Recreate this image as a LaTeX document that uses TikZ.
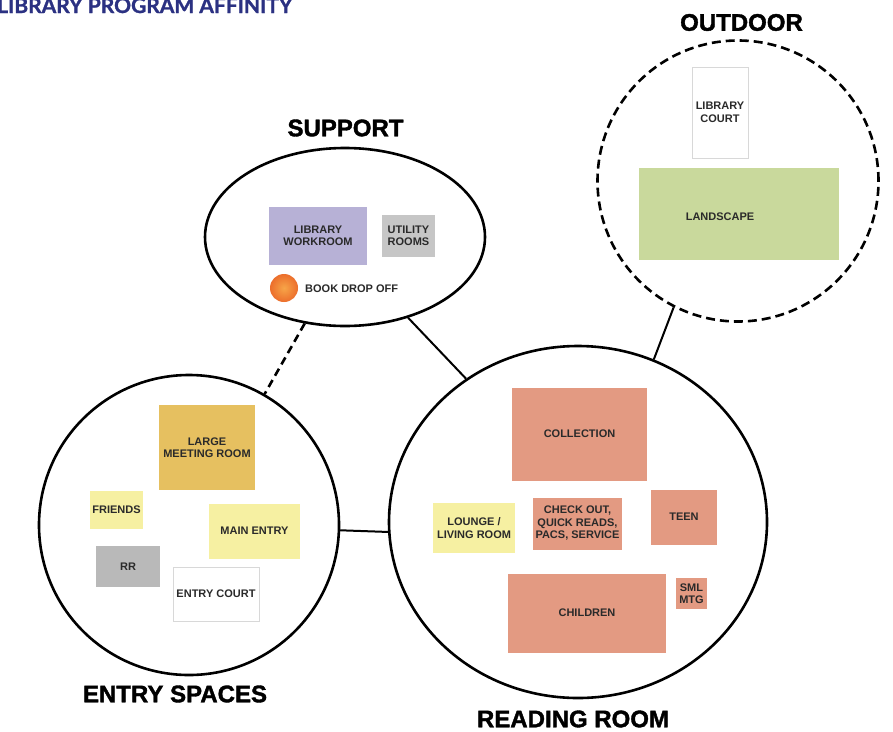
\documentclass[tikz,border=0pt]{standalone}
\usepackage{fontspec}
\setmainfont{Liberation Sans}
\newfontfamily\heavyfont{Liberation Sans}[BoldFeatures={FakeBold=1.6}]
\newfontfamily\titlefont{Lato}[BoldFeatures={FakeBold=1.2}]
\usetikzlibrary{shapes.geometric}
\definecolor{titleblue}{HTML}{2B3182}
\definecolor{labelgray}{HTML}{2A2A2A}
\definecolor{lavender}{HTML}{B7B1D6}
\definecolor{utilgray}{HTML}{C6C6C6}
\definecolor{rrgray}{HTML}{B9B9B9}
\definecolor{leafgreen}{HTML}{C9D99C}
\definecolor{gold}{HTML}{E6C060}
\definecolor{paleyellow}{HTML}{F6F0A2}
\definecolor{salmon}{HTML}{E39A82}
\definecolor{dropinner}{HTML}{F7A548}
\definecolor{dropouter}{HTML}{EC6E2C}
\definecolor{courtline}{HTML}{D8D8D8}
\begin{document}
\begin{tikzpicture}[x=1pt,y=-1pt,
  zone/.style={draw=black, line width=2.6pt, inner sep=0pt},
  zonelabel/.style={font=\heavyfont\bfseries\fontsize{24}{24}\selectfont, inner sep=0pt},
  room/.style={rectangle, inner sep=0pt, align=center, text=labelgray,
    font=\bfseries\fontsize{11}{12.5}\selectfont},
  court/.style={room, fill=white, draw=courtline, line width=0.8pt},
  link/.style={draw=black, line width=2pt},
  dashlink/.style={draw=black, line width=2.6pt, dash pattern=on 8pt off 5pt}]
\useasboundingbox (0,0) rectangle (893,731);
\fill[white] (0,0) rectangle (893,731);

% title
\node[anchor=base west, inner sep=0pt, text=titleblue,
  font=\titlefont\bfseries\fontsize{21}{21}\selectfont] (title) at (-3,13) {LIBRARY PROGRAM AFFINITY};

% zones
\node[zone, ellipse, minimum width=280pt, minimum height=178pt] (sup) at (345,237) {};
\node[zone, circle, minimum size=281pt, dash pattern=on 9pt off 5pt] (out) at (738,181) {};
\node[zone, circle, minimum size=300pt] (entry) at (189,525) {};
\node[zone, ellipse, minimum width=378pt, minimum height=352pt] (read) at (578,522) {};

% zone labels
\node[zonelabel] (suplbl) at (345.5,128) {SUPPORT};
\node[zonelabel] (outlbl) at (741.5,22.5) {OUTDOOR};
\node[zonelabel] (entrylbl) at (175,694) {ENTRY SPACES};
\node[zonelabel] (readlbl) at (573,719) {READING ROOM};

% connectors
\draw[dashlink] (sup.245) -- (entry.60);
\draw[link] (sup.-52) -- (read.128);
\draw[link] (read.65.6) -- (out.243);
\draw[link] (entry.-2.7) -- (read.183);

% support rooms
\node[room, fill=lavender, minimum width=98pt, minimum height=58pt] (work) at (318,236) {LIBRARY\\WORKROOM};
\node[room, fill=utilgray, minimum width=53pt, minimum height=42pt] (util) at (408.5,236) {UTILITY\\ROOMS};
\node[circle, inner sep=0pt, minimum size=28pt, inner color=dropinner, outer color=dropouter] (drop) at (284,288) {};
\node[room, anchor=west] (droplbl) at (305,289) {BOOK DROP OFF};

% outdoor rooms
\node[court, minimum width=56pt, minimum height=91pt] (lcourt) at (720,112.5) {LIBRARY\\COURT};
\node[room, fill=leafgreen, minimum width=200pt, minimum height=92pt] (land) at (739,214) {};
\node[room] (landlbl) at (720,217) {LANDSCAPE};

% entry rooms
\node[room, fill=gold, minimum width=96pt, minimum height=85pt] (meet) at (207,447.5) {LARGE\\MEETING ROOM};
\node[room, fill=paleyellow, minimum width=53pt, minimum height=38pt] (friends) at (116.5,510) {FRIENDS};
\node[room, fill=paleyellow, minimum width=91pt, minimum height=55pt] (main) at (254.5,531) {MAIN ENTRY};
\node[room, fill=rrgray, minimum width=64pt, minimum height=41pt] (rr) at (128,566.5) {RR};
\node[court, minimum width=86pt, minimum height=54pt] (ecourt) at (216,594) {ENTRY COURT};

% reading rooms
\node[room, fill=salmon, minimum width=135pt, minimum height=93pt] (coll) at (579.5,434) {COLLECTION};
\node[room, fill=paleyellow, minimum width=82pt, minimum height=50pt] (lounge) at (474,528) {LOUNGE /\\LIVING ROOM};
\node[room, fill=salmon, minimum width=89pt, minimum height=52pt] (check) at (577.5,523.5) {CHECK OUT,\\QUICK READS,\\PACS, SERVICE};
\node[room, fill=salmon, minimum width=66pt, minimum height=55pt] (teen) at (684,517) {TEEN};
\node[room, fill=salmon, minimum width=158pt, minimum height=79pt] (child) at (587,613) {CHILDREN};
\node[room, fill=salmon, minimum width=31pt, minimum height=31pt] (sml) at (691.5,593.5) {SML\\MTG};
\end{tikzpicture}
\end{document}
